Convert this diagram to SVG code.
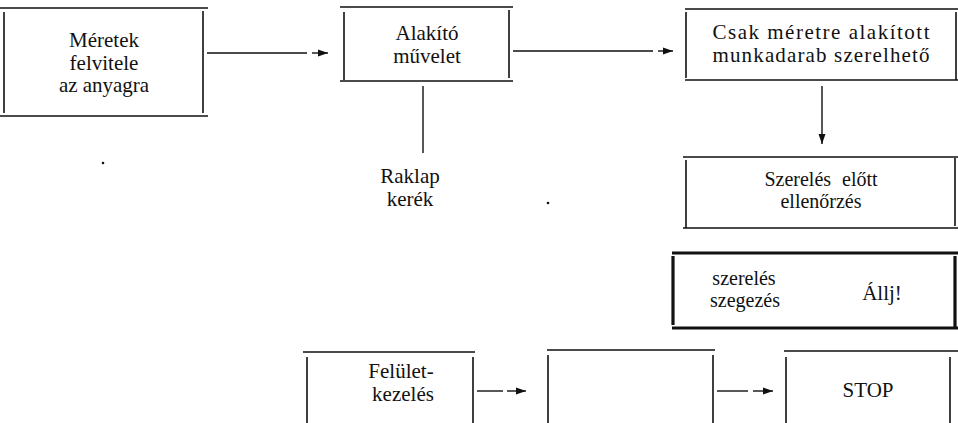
<svg xmlns="http://www.w3.org/2000/svg" width="958" height="423" viewBox="0 0 958 423">
<defs>
<marker id="ah" markerUnits="userSpaceOnUse" markerWidth="10" markerHeight="8" viewBox="0 0 10 8" refX="10" refY="4" orient="auto">
<path d="M0,0.5 L10,4 L0,7.5 Z" fill="#111"/>
</marker>
<style>
.b{stroke:#111;stroke-width:1.6;fill:none}
.k{stroke:#111;stroke-width:3.2;fill:none}
.c{stroke:#111;stroke-width:1.4;fill:none}
.a{stroke:#111;stroke-width:1.4;fill:none;marker-end:url(#ah)}
text{font-family:"Liberation Serif","DejaVu Serif",serif;font-size:21px;fill:#111;text-anchor:middle}
.s{font-size:20px}
</style>
</defs>
<rect width="958" height="423" fill="#fff"/>

<g id="n1">
<path class="b" d="M0,8H208M0,116H208M4,12V113M203,11V113"/>
<text x="104" y="47">Méretek</text>
<text x="104" y="70">felvitele</text>
<text x="104" y="92" textLength="90" lengthAdjust="spacing">az anyagra</text>
</g>

<g id="n2">
<path class="b" d="M340,7H513M340,81H513M344,12V80M509,10V78"/>
<text x="427" y="40">Alakító</text>
<text x="427" y="63">művelet</text>
</g>

<g id="n3">
<text x="410" y="183">Raklap</text>
<text x="410" y="206">kerék</text>
</g>

<g id="n4">
<path class="b" d="M685,9H958M685,80H958M686,12V78M956,12V80"/>
<text x="821" y="39" textLength="217" lengthAdjust="spacing">Csak méretre alakított</text>
<text x="821" y="62" textLength="217" lengthAdjust="spacing">munkadarab szerelhető</text>
</g>

<g id="n5">
<path class="b" d="M683,157H958M683,228H958M686,160V228M955,158V226"/>
<text class="s" x="821" y="186" word-spacing="6">Szerelés előtt</text>
<text class="s" x="821" y="208">ellenőrzés</text>
</g>

<g id="n6">
<path class="k" d="M672,253H958M672,328H958M673,256V325M955,256V328"/>
<text class="s" x="744" y="285">szerelés</text>
<text class="s" x="745" y="307">szegezés</text>
<text x="882" y="300">Állj!</text>
</g>

<g id="n7">
<path class="b" d="M303,352H475M307,357V423M473,357V423"/>
<text x="401" y="378">Felület-</text>
<text x="403" y="401">kezelés</text>
</g>

<g id="n8">
<path class="b" d="M547,350H715M548,355V423M713,355V423"/>
</g>

<g id="n9">
<path class="b" d="M784,351H958M786,357V423M950,357V423"/>
<text x="868" y="397">STOP</text>
</g>

<g id="connectors">
<path class="c" d="M207,53H307"/>
<path class="a" d="M312,53H328"/>
<path class="c" d="M513,51H653"/>
<path class="a" d="M658,51H673"/>
<path class="c" d="M423,86V153"/>
<path class="c" d="M822,86V132"/>
<path class="a" d="M822,132V144"/>
<path class="c" d="M477,391H503"/>
<path class="a" d="M507,391H526"/>
<path class="c" d="M717,391H748"/>
<path class="a" d="M753,391H773"/>
</g>

<circle cx="103" cy="163" r="1.3" fill="#111"/>
<circle cx="548" cy="203" r="1.3" fill="#111"/>
</svg>
